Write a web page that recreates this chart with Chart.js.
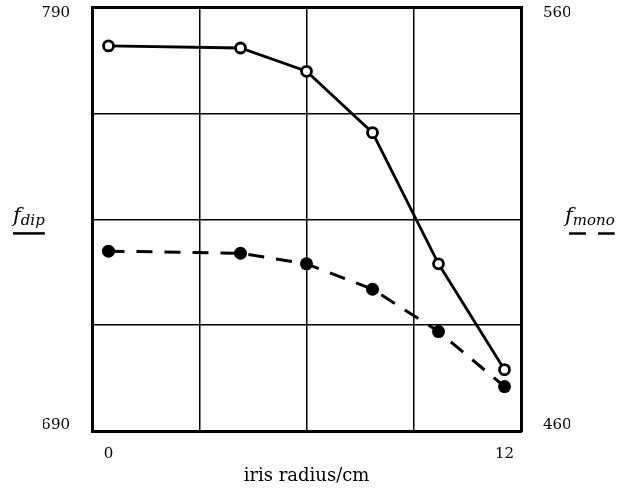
<!DOCTYPE html>
<html>
<head>
<meta charset="utf-8">
<script src="https://cdn.jsdelivr.net/npm/chart.js@4.4.1/dist/chart.umd.min.js"></script>
<style>
  body { margin: 0; background: #fff; }
</style>
</head>
<body>
<canvas id="chart" width="637" height="489"></canvas>
<script>
// values
var radius = [0, 4, 6, 8, 10, 12];
var fDip = [781, 780.5, 775, 760.5, 729.5, 704.5];
var fMono = [502.5, 502, 499.5, 493.5, 483.5, 470.5];
var xTicks = [0, 12];
var xGrid = [2.75, 6, 9.25];
var dipTicks = [690, 715, 740, 765, 790];
var dipLabels = [690, 790];
var monoTicks = [460, 560];

Chart.defaults.font.family = "'DejaVu Serif', serif";
Chart.defaults.font.size = 15;
Chart.defaults.color = "#000";

var toPoints = function (ys) {
  return radius.map(function (x, i) { return { x: x, y: ys[i] }; });
};
var setTicks = function (values) {
  return function (axis) {
    axis.ticks = values.map(function (v) { return { value: v }; });
  };
};
// fixed axis box sizes, no extra edge padding
var fitBox = function (size) {
  return function (scale) {
    scale.paddingTop = 0;
    scale.paddingBottom = 0;
    scale.paddingLeft = 0;
    scale.paddingRight = 0;
    if (size == null) return;
    if (scale.isHorizontal()) scale.height = size;
    else scale.width = size;
  };
};

// f_dip / f_mono tags with their line-style underlines
var drawTag = function (ctx, sub, x, y, dash) {
  ctx.save();
  ctx.fillStyle = "#000";
  ctx.strokeStyle = "#000";
  ctx.font = "italic 21px 'DejaVu Serif'";
  ctx.fillText("f", x, y);
  var w = ctx.measureText("f").width;
  ctx.font = "italic 15px 'DejaVu Serif'";
  ctx.fillText(sub, x + w, y + 3);
  var total = w + ctx.measureText(sub).width;
  ctx.beginPath();
  ctx.setLineDash(dash);
  ctx.lineWidth = 2.5;
  ctx.moveTo(x + (dash.length ? 4 : 0), y + 11);
  ctx.lineTo(x + total, y + 11);
  ctx.stroke();
  ctx.restore();
};

var axisTags = {
  id: "axisTags",
  beforeDraw: function (chart) {
    // end labels of the value axes sit just inside the frame
    ["y", "y1"].forEach(function (id) {
      var s = chart.scales[id];
      s.getLabelItems().forEach(function (it) {
        if (it.label === "") return;
        var v = Number(it.label);
        if (v === s.max) it.options.translation[1] += 5;
        if (v === s.min) it.options.translation[1] -= 6;
      });
    });
  },
  afterDraw: function (chart) {
    var a = chart.chartArea;
    var mid = (a.top + a.bottom) / 2;
    drawTag(chart.ctx, "dip", 13, mid + 3, []);
    drawTag(chart.ctx, "mono", 565, mid + 3, [17, 12]);
  }
};

var gridLine = { color: "#000", lineWidth: 1.5, drawTicks: false };
var frame = { display: true, color: "#000", width: 3 };

new Chart(document.getElementById("chart"), {
  type: "line",
  data: {
    datasets: [{
      label: "f_dip",
      data: toPoints(fDip),
      yAxisID: "y",
      borderColor: "#000",
      borderWidth: 2.8,
      tension: 0,
      pointRadius: 5,
      pointBorderWidth: 2.8,
      pointBackgroundColor: "#fff",
      pointBorderColor: "#000"
    }, {
      label: "f_mono",
      data: toPoints(fMono),
      yAxisID: "y1",
      borderColor: "#000",
      borderWidth: 3,
      borderDash: [16, 12],
      tension: 0,
      pointRadius: 6.5,
      pointBorderWidth: 0,
      pointBackgroundColor: "#000"
    }]
  },
  options: {
    responsive: false,
    animation: false,
    layout: { padding: { left: 43, right: 67, top: 5, bottom: 2 } },
    plugins: { legend: { display: false }, tooltip: { enabled: false } },
    scales: {
      x: {
        type: "linear",
        position: "bottom",
        min: -0.5,
        max: 12.5,
        afterBuildTicks: setTicks(xTicks),
        afterFit: fitBox(56),
        grid: { display: false, drawTicks: false },
        border: frame,
        ticks: { padding: 14 },
        title: { display: true, text: "iris radius/cm", font: { size: 18 }, padding: { top: 3, bottom: 0 } }
      },
      xg: {
        type: "linear",
        position: "top",
        min: -0.5,
        max: 12.5,
        afterBuildTicks: setTicks(xGrid),
        afterFit: fitBox(null),
        grid: gridLine,
        border: frame,
        ticks: { display: false }
      },
      y: {
        type: "linear",
        position: "left",
        min: 690,
        max: 790,
        afterBuildTicks: setTicks(dipTicks),
        afterFit: fitBox(49),
        grid: gridLine,
        border: frame,
        ticks: {
          padding: 22,
          callback: function (v) { return dipLabels.indexOf(v) >= 0 ? String(v) : ""; }
        }
      },
      y1: {
        type: "linear",
        position: "right",
        min: 460,
        max: 560,
        afterBuildTicks: setTicks(monoTicks),
        afterFit: fitBox(49),
        grid: { display: false, drawTicks: false },
        border: frame,
        ticks: { padding: 22 }
      }
    }
  },
  plugins: [axisTags]
});
</script>
</body>
</html>
